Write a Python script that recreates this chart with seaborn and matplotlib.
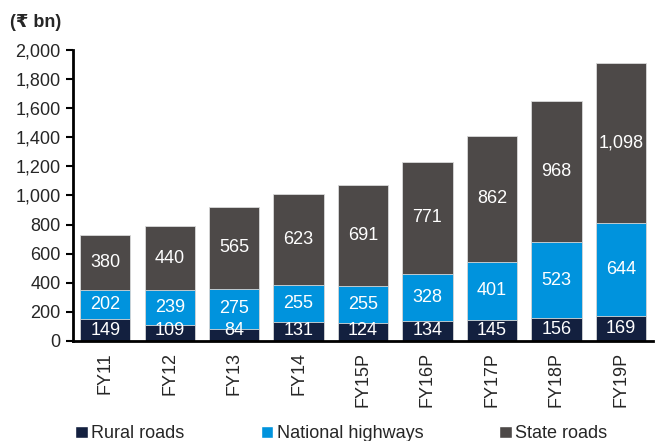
import matplotlib
matplotlib.use("Agg")
import matplotlib.pyplot as plt
import seaborn as sns
import numpy as np
import pandas as pd
from matplotlib.patches import Patch
from matplotlib.ticker import FuncFormatter

categories = ["FY11", "FY12", "FY13", "FY14", "FY15P", "FY16P", "FY17P", "FY18P", "FY19P"]
rural = [149, 109, 84, 131, 124, 134, 145, 156, 169]
national = [202, 239, 275, 255, 255, 328, 401, 523, 644]
state = [380, 440, 565, 623, 691, 771, 862, 968, 1098]
series_names = ["Rural roads", "National highways", "State roads"]

c_rural = "#13203f"
c_nat = "#0093dd"
c_state = "#4d4948"

sns.set_style("white")
plt.rcParams["font.family"] = ["Liberation Sans", "DejaVu Sans"]

FS = 13

fig = plt.figure(figsize=(6.55, 4.41), dpi=100)
ax = fig.add_axes([0.1115, 0.2268, 0.8855, 0.66])

r = np.array(rural)
n = np.array(national)
s = np.array(state)
df = pd.DataFrame({"cat": categories, "total": r + n + s, "rn": r + n, "r": r})

for col, color in [("total", c_state), ("rn", c_nat), ("r", c_rural)]:
    sns.barplot(data=df, x="cat", y=col, color=color, width=0.78, ax=ax,
                edgecolor="#d9d9d9", linewidth=0.6, saturation=1)

for i in range(len(categories)):
    ax.text(i, max(r[i] / 2, 72), f"{r[i]:,}", ha="center", va="center", color="white", fontsize=FS)
    ax.text(i, r[i] + n[i] / 2, f"{n[i]:,}", ha="center", va="center", color="white", fontsize=FS)
    ax.text(i, r[i] + n[i] + s[i] / 2, f"{s[i]:,}", ha="center", va="center", color="white", fontsize=FS)

ax.set_ylim(0, 2000)
ax.set_xlim(-0.5, len(categories) - 0.5)
ax.set_yticks(np.arange(0, 2001, 200))
ax.yaxis.set_major_formatter(FuncFormatter(lambda v, p: f"{int(v):,}"))
ax.set_xticks(range(len(categories)))
ax.set_xticklabels(categories, rotation=90, fontsize=FS)
ax.set_xticks(np.arange(-0.5, len(categories), 1.0), minor=True)
ax.tick_params(axis="x", which="major", length=0, pad=8)
ax.tick_params(axis="x", which="minor", length=5, width=1.5, direction="out", color="black")
ax.tick_params(axis="y", which="major", length=5, width=1.5, direction="out", color="black",
               labelsize=FS, pad=4, left=True)
ax.set_xlabel("")
ax.set_ylabel("")

for side in ["top", "right"]:
    ax.spines[side].set_visible(False)
for side in ["left", "bottom"]:
    ax.spines[side].set_color("black")
    ax.spines[side].set_linewidth(2)

fig.text(0.015, 0.95, "(\u20b9 bn)", fontsize=FS, fontweight="bold", ha="left", va="center")

handles = [Patch(facecolor=c_rural), Patch(facecolor=c_nat), Patch(facecolor=c_state)]
fig.legend(handles, series_names, loc="lower left", bbox_to_anchor=(0.09, -0.04), ncol=3,
           frameon=False, fontsize=FS, handlelength=0.7, handleheight=0.7, handletextpad=0.2,
           columnspacing=4.2)

fig.savefig("out.png", dpi=100)
